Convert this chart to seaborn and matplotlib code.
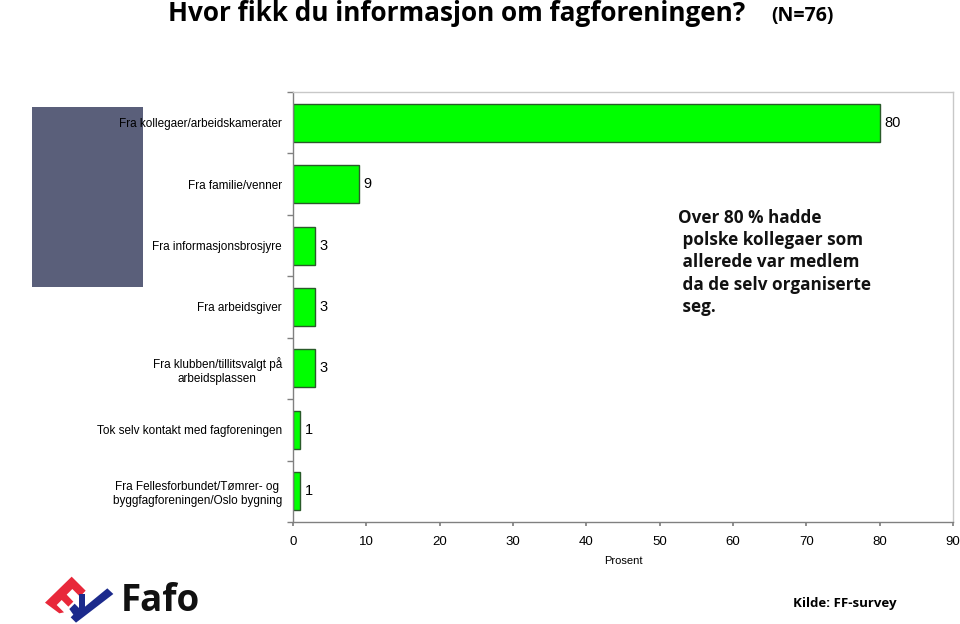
import matplotlib
matplotlib.use("Agg")
import matplotlib.pyplot as plt
import seaborn as sns
import pandas as pd
from matplotlib.patches import Rectangle, Polygon
from matplotlib.ticker import FixedLocator

categories = [
    "Fra kollegaer/arbeidskamerater",
    "Fra familie/venner",
    "Fra informasjonsbrosjyre",
    "Fra arbeidsgiver",
    "Fra klubben/tillitsvalgt på\narbeidsplassen",
    "Tok selv kontakt med fagforeningen",
    "Fra Fellesforbundet/Tømrer- og\nbyggfagforeningen/Oslo bygning",
]
values = [80, 9, 3, 3, 3, 1, 1]
xticks = [0, 10, 20, 30, 40, 50, 60, 70, 80, 90]

df = pd.DataFrame({"cat": categories, "val": values})

sns.set_theme(style="white")
plt.rcParams["font.family"] = ["Liberation Sans", "DejaVu Sans"]
plt.rcParams["text.color"] = "black"
plt.rcParams["axes.labelcolor"] = "black"
plt.rcParams["xtick.color"] = "black"
plt.rcParams["ytick.color"] = "black"

fig = plt.figure(figsize=(9.6, 6.24), dpi=100)

# background decoration layer (pixel coordinates)
bg = fig.add_axes([0, 0, 1, 1], zorder=0)
bg.set_xlim(0, 960)
bg.set_ylim(624, 0)
bg.axis("off")
bg.add_patch(Rectangle((32, 107), 111, 180, facecolor="#5a5f7a", edgecolor="none"))


def z(pts):
    return [(40 + x / 3, 570 + y / 3) for x, y in pts]


red = "#e8283a"
blue = "#1c2a8c"
bg.add_patch(Polygon(z([(15, 98), (95, 20), (137, 62), (120, 80), (97, 57), (80, 74),
                        (100, 95), (85, 110), (65, 90), (50, 105), (72, 127), (58, 130)]),
                     closed=True, facecolor=red, edgecolor="none"))
bg.add_patch(Polygon(z([(88, 117), (104, 101), (117, 114), (117, 72), (135, 72), (135, 110),
                        (202, 55), (220, 72), (108, 158), (92, 142), (100, 134)]),
                     closed=True, facecolor=blue, edgecolor="none"))
bg.text(121, 601, "Fafo", fontsize=26.5, fontweight="bold", family=["Open Sans", "DejaVu Sans"],
        va="center", ha="left", color="#111111")

ax = fig.add_axes([293 / 960, 1 - 522 / 624, 660 / 960, 430 / 624], zorder=1)
ax.patch.set_alpha(0)
sns.barplot(data=df, x="val", y="cat", orient="h", color="#00ff00",
            edgecolor="#2a5a2a", linewidth=1.0, width=0.62, saturation=1, ax=ax)

ax.set_xlim(0, 90)
ax.set_ylim(len(categories) - 0.5, -0.5)
ax.set_xticks(xticks)
ax.set_xticklabels([str(t) for t in xticks], fontsize=9.5)
ax.set_xlabel("Prosent", fontsize=8, labelpad=6)
ax.set_ylabel("")
ax.tick_params(axis="y", length=0, labelsize=8.5, pad=8)
ax.yaxis.set_minor_locator(FixedLocator([i + 0.5 for i in range(-1, len(categories))]))
ax.tick_params(axis="y", which="minor", length=4, color="#808080", direction="out", left=True)
ax.tick_params(axis="x", length=3, color="#808080", direction="out", bottom=True, pad=7)
for lbl in ax.get_yticklabels():
    lbl.set_multialignment("center")

for s in ["left", "bottom"]:
    ax.spines[s].set_color("#808080")
    ax.spines[s].set_linewidth(1.0)
for s in ["top", "right"]:
    ax.spines[s].set_visible(True)
    ax.spines[s].set_color("#c8c8c8")
    ax.spines[s].set_linewidth(1.0)

for i, v in enumerate(values):
    ax.text(v + 0.6, i, str(v), va="center", ha="left", fontsize=10.5)

fig.text(168 / 960, 1 - 21 / 624, "Hvor fikk du informasjon om fagforeningen?",
         fontsize=18.8, fontweight="bold", va="baseline", ha="left",
         family=["Open Sans", "DejaVu Sans"])
fig.text(771 / 960, 1 - 21 / 624, "(N=76)", fontsize=14, fontweight="bold",
         va="baseline", ha="left", family=["Open Sans", "DejaVu Sans"])

fig.text(678 / 960, 1 - 209 / 624,
         "Over 80 % hadde\n polske kollegaer som\n allerede var medlem\n da de selv organiserte\n seg.",
         fontsize=12.3, fontweight="bold", va="top", ha="left", linespacing=1.3,
         family=["Open Sans", "DejaVu Sans"], color="#111111")

fig.text(793 / 960, 1 - 603 / 624, "Kilde: FF-survey", fontsize=9.5, fontweight="bold",
         va="center", ha="left", family=["Open Sans", "DejaVu Sans"])

fig.savefig("out.png", dpi=100)
